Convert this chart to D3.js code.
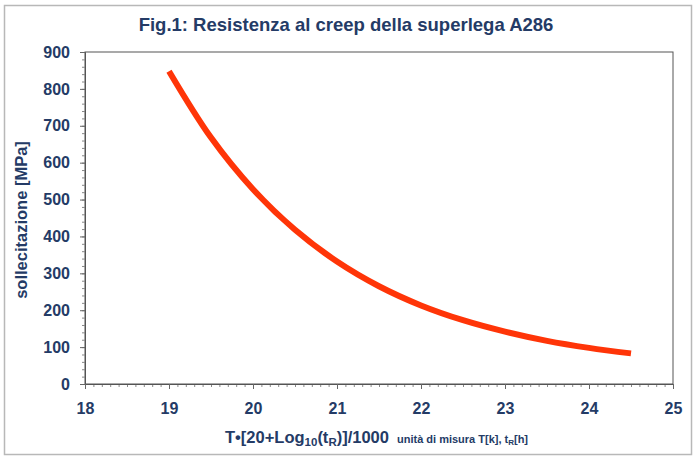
<!DOCTYPE html>
<html><head><meta charset="utf-8">
<script src="https://cdn.jsdelivr.net/npm/d3@7"></script>
<style>body{margin:0;background:#fff;} svg{display:block;font-family:"Liberation Sans",Arial,sans-serif;}</style>
</head><body><svg id="c" width="700" height="460"></svg>
<script>
const xValues = [19.0, 19.5, 20.0, 20.5, 21.0, 21.5, 22.0, 22.5, 23.0, 23.5, 24.0, 24.5];
const stressValues = [848, 668, 528, 418, 332, 265, 213, 173, 142, 117, 98, 83];
const xTicks = [18, 19, 20, 21, 22, 23, 24, 25];
const yTicks = [0, 100, 200, 300, 400, 500, 600, 700, 800, 900];
const title = "Fig.1: Resistenza al creep della superlega A286";
const yLabel = "sollecitazione [MPa]";

const svg = d3.select("#c");
const navy = "#243B66";
const m = {l:85, r:673, t:52, b:384};
const x = d3.scaleLinear().domain([18,25]).range([m.l,m.r]);
const y = d3.scaleLinear().domain([0,900]).range([m.b,m.t]);

svg.append("rect").attr("x",4.5).attr("y",5.5).attr("width",687).attr("height",449)
  .attr("fill","#fff").attr("stroke","#b8b8b8").attr("stroke-width",1.5);

svg.append("text").attr("x",346).attr("y",31).attr("text-anchor","middle")
  .attr("font-size",18.5).attr("font-weight","bold").attr("fill",navy).text(title);

// plot box
svg.append("rect").attr("x",m.l).attr("y",m.t).attr("width",m.r-m.l).attr("height",m.b-m.t)
  .attr("fill","#fff").attr("stroke","#555").attr("stroke-width",1);

// minor ticks
const gy = svg.append("g").attr("transform",`translate(${m.l},0)`);
gy.call(d3.axisLeft(y).tickValues(d3.range(0,901,20)).tickSize(3).tickFormat(""))
  .call(g=>g.select(".domain").remove()).selectAll("line").attr("stroke","#888");
const gx = svg.append("g").attr("transform",`translate(0,${m.b})`);
gx.call(d3.axisBottom(x).tickValues(d3.range(180,251,1).map(d=>d/10)).tickSize(3).tickFormat(""))
  .call(g=>g.select(".domain").remove()).selectAll("line").attr("stroke","#888");

// major axes
const ay = svg.append("g").attr("transform",`translate(${m.l},0)`)
  .call(d3.axisLeft(y).tickValues(yTicks).tickSize(5).tickPadding(10).tickFormat(d3.format("d")));
ay.select(".domain").attr("stroke","#555");
ay.selectAll("line").attr("stroke","#666");
ay.selectAll("text").attr("font-size",16).attr("font-weight","bold").attr("fill",navy)
  .attr("font-family","Liberation Sans, Arial, sans-serif");
const ax = svg.append("g").attr("transform",`translate(0,${m.b})`)
  .call(d3.axisBottom(x).tickValues(xTicks).tickSize(5).tickPadding(14).tickFormat(d3.format("d")));
ax.select(".domain").attr("stroke","#555");
ax.selectAll("line").attr("stroke","#666");
ax.selectAll("text").attr("font-size",16).attr("font-weight","bold").attr("fill",navy)
  .attr("font-family","Liberation Sans, Arial, sans-serif");

// y label
svg.append("text").attr("transform","translate(27,220) rotate(-90)").attr("text-anchor","middle")
  .attr("font-size",16.5).attr("font-weight","bold").attr("fill",navy).text(yLabel);

// x label
const xl = svg.append("text").attr("x",225).attr("y",443).attr("font-weight","bold").attr("fill",navy);
xl.append("tspan").attr("font-size",16.5).text("T•[20+Log");
xl.append("tspan").attr("font-size",11.5).attr("dy",3).text("10");
xl.append("tspan").attr("font-size",16.5).attr("dy",-3).text("(t");
xl.append("tspan").attr("font-size",11.5).attr("dy",3).text("R");
xl.append("tspan").attr("font-size",16.5).attr("dy",-3).text(")]/1000");
xl.append("tspan").attr("font-size",11).attr("dx",8).text("unità di misura T[k], t");
xl.append("tspan").attr("font-size",8).attr("dy",2).text("R");
xl.append("tspan").attr("font-size",11).attr("dy",-2).text("[h]");

// curve
const line = d3.line().x((d,i)=>x(xValues[i])).y(d=>y(d)).curve(d3.curveCatmullRom);
svg.append("path").datum(stressValues).attr("d",line).attr("fill","none")
  .attr("stroke","#FF3508").attr("stroke-width",6);
</script></body></html>
